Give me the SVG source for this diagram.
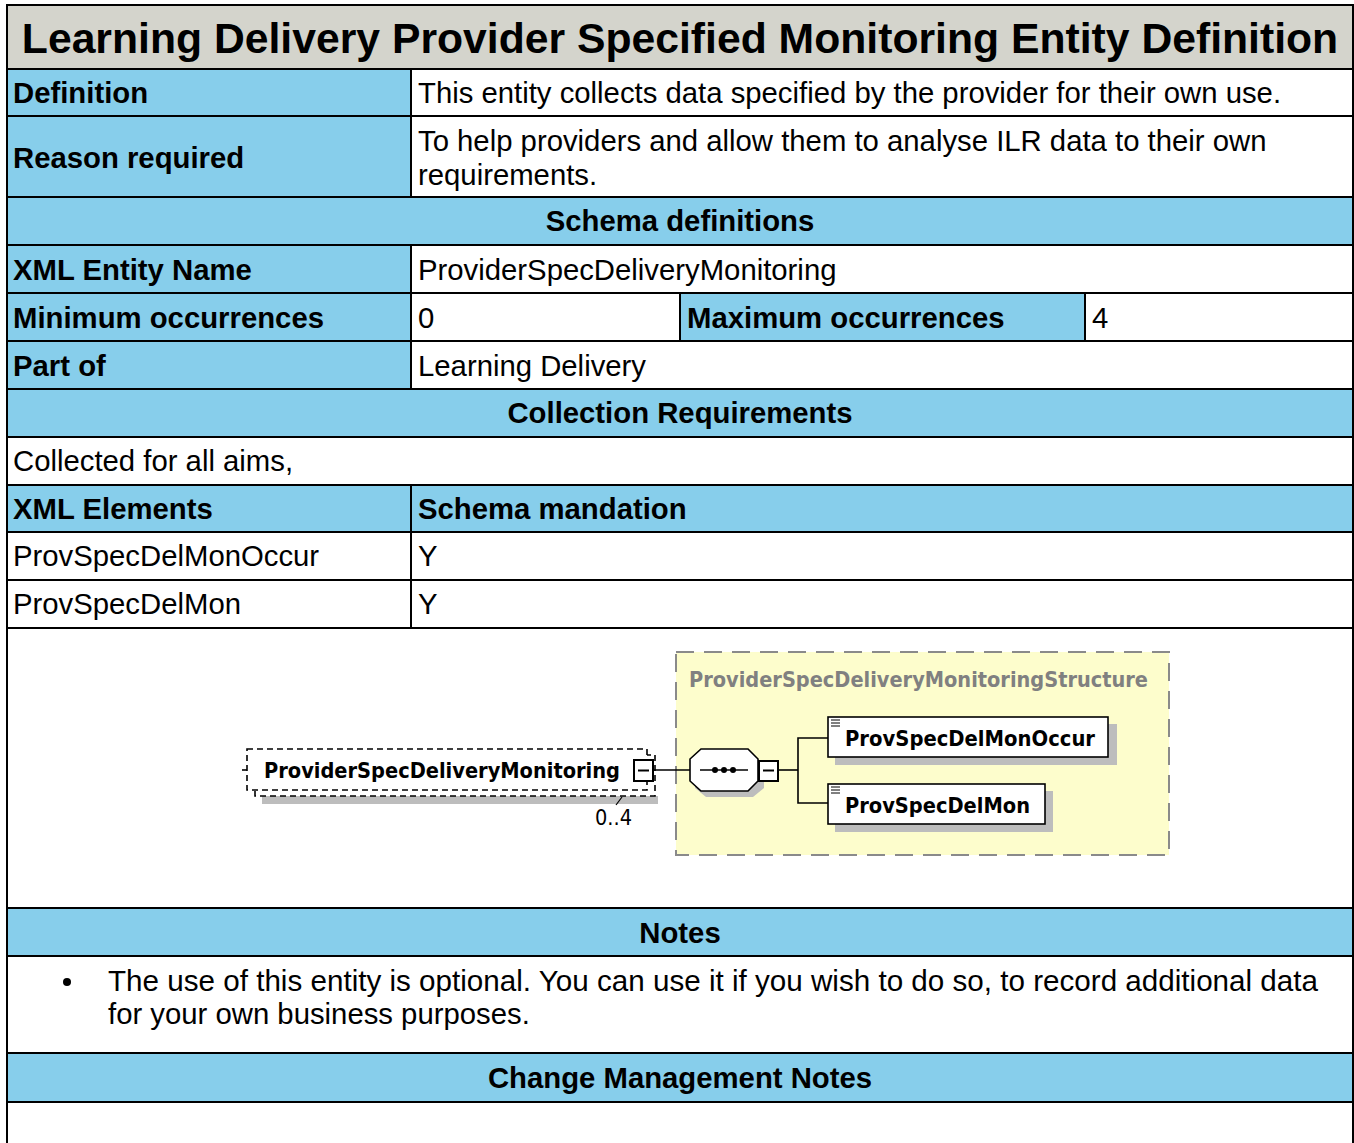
<svg xmlns="http://www.w3.org/2000/svg" width="1354" height="1143" viewBox="0 0 1354 1143">
  <defs>
    <style>
      .hdr { fill: #87ceeb; }
      .grid { stroke: #000; stroke-width: 2; fill: none; }
      .t { font-family: "Liberation Sans", Arial, sans-serif; font-size: 29.3px; fill: #000; }
      .b { font-weight: bold; }
      .mid { text-anchor: middle; }
      .xs { font-family: "DejaVu Sans", Verdana, sans-serif; font-weight: bold; fill: #000; }
      .box { fill: #fff; stroke: #000; stroke-width: 1.6; }
      .shadow { fill: #bdbdbd; }
      .wire { stroke: #000; stroke-width: 1.6; fill: none; }
    </style>
  </defs>

  <rect width="1354" height="1143" fill="#fff"/>

  <!-- table backgrounds -->
  <rect x="7" y="5" width="1346" height="64" fill="#d4d4cc"/>
  <rect class="hdr" x="7" y="69" width="404" height="128"/>
  <rect class="hdr" x="7" y="197" width="1346" height="48"/>
  <rect class="hdr" x="7" y="245" width="404" height="144"/>
  <rect class="hdr" x="680" y="293" width="405" height="48"/>
  <rect class="hdr" x="7" y="389" width="1346" height="48"/>
  <rect class="hdr" x="7" y="485" width="1346" height="47"/>
  <rect class="hdr" x="7" y="908" width="1346" height="48"/>
  <rect class="hdr" x="7" y="1053" width="1346" height="49"/>

  <!-- table grid -->
  <g id="grid" class="grid">
    <rect x="7" y="5" width="1346" height="1140"/>
    <line x1="7" y1="69" x2="1353" y2="69"/>
    <line x1="7" y1="116" x2="1353" y2="116"/>
    <line x1="7" y1="197" x2="1353" y2="197"/>
    <line x1="7" y1="245" x2="1353" y2="245"/>
    <line x1="7" y1="293" x2="1353" y2="293"/>
    <line x1="7" y1="341" x2="1353" y2="341"/>
    <line x1="7" y1="389" x2="1353" y2="389"/>
    <line x1="7" y1="437" x2="1353" y2="437"/>
    <line x1="7" y1="485" x2="1353" y2="485"/>
    <line x1="7" y1="532" x2="1353" y2="532"/>
    <line x1="7" y1="580" x2="1353" y2="580"/>
    <line x1="7" y1="628" x2="1353" y2="628"/>
    <line x1="7" y1="908" x2="1353" y2="908"/>
    <line x1="7" y1="956" x2="1353" y2="956"/>
    <line x1="7" y1="1053" x2="1353" y2="1053"/>
    <line x1="7" y1="1102" x2="1353" y2="1102"/>
    <line x1="411" y1="69" x2="411" y2="197"/>
    <line x1="411" y1="245" x2="411" y2="389"/>
    <line x1="411" y1="485" x2="411" y2="628"/>
    <line x1="680" y1="293" x2="680" y2="341"/>
    <line x1="1085" y1="293" x2="1085" y2="341"/>
  </g>

  <!-- table text -->
  <g id="table-text">
    <text class="t b mid" x="680" y="53" style="font-size:42.7px">Learning Delivery Provider Specified Monitoring Entity Definition</text>
    <text class="t b" x="13" y="103">Definition</text>
    <text class="t" x="418" y="103">This entity collects data specified by the provider for their own use.</text>
    <text class="t b" x="13" y="168">Reason required</text>
    <text class="t" x="418" y="151">To help providers and allow them to analyse ILR data to their own</text>
    <text class="t" x="418" y="185">requirements.</text>
    <text class="t b mid" x="680" y="231">Schema definitions</text>
    <text class="t b" x="13" y="280">XML Entity Name</text>
    <text class="t" x="418" y="280">ProviderSpecDeliveryMonitoring</text>
    <text class="t b" x="13" y="328">Minimum occurrences</text>
    <text class="t" x="418" y="328">0</text>
    <text class="t b" x="687" y="328">Maximum occurrences</text>
    <text class="t" x="1092" y="328">4</text>
    <text class="t b" x="13" y="376">Part of</text>
    <text class="t" x="418" y="376">Learning Delivery</text>
    <text class="t b mid" x="680" y="423">Collection Requirements</text>
    <text class="t" x="13" y="471">Collected for all aims,</text>
    <text class="t b" x="13" y="519">XML Elements</text>
    <text class="t b" x="418" y="519">Schema mandation</text>
    <text class="t" x="13" y="566">ProvSpecDelMonOccur</text>
    <text class="t" x="418" y="566">Y</text>
    <text class="t" x="13" y="614">ProvSpecDelMon</text>
    <text class="t" x="418" y="614">Y</text>
    <text class="t b mid" x="680" y="943">Notes</text>
    <circle cx="67" cy="982" r="4" fill="#000"/>
    <text class="t" x="108" y="991" textLength="1210" lengthAdjust="spacingAndGlyphs">The use of this entity is optional.  You can use it if you wish to do so, to record additional data</text>
    <text class="t" x="108" y="1024">for your own business purposes.</text>
    <text class="t b mid" x="680" y="1088">Change Management Notes</text>
  </g>

  <!-- schema diagram -->
  <g id="structure-frame">
    <rect x="676" y="652" width="493" height="203" fill="#fdfdcc" stroke="#8a8a8a" stroke-width="2" stroke-dasharray="18,10"/>
    <text class="xs" x="689" y="687" font-size="22" style="fill:#808080" textLength="459" lengthAdjust="spacingAndGlyphs">ProviderSpecDeliveryMonitoringStructure</text>
  </g>

  <g id="root-element">
    <rect class="shadow" x="262" y="796" width="396" height="8"/>
    <rect x="255" y="755" width="400" height="41" fill="#fff" stroke="#000" stroke-width="1.6" stroke-dasharray="6,4"/>
    <rect x="247" y="749" width="400" height="41" fill="#fff" stroke="#000" stroke-width="1.6" stroke-dasharray="6,4"/>
    <line x1="242" y1="770" x2="247" y2="770" stroke="#000" stroke-width="1.6"/>
    <text class="xs" x="264" y="778" font-size="22" textLength="356" lengthAdjust="spacingAndGlyphs">ProviderSpecDeliveryMonitoring</text>
    <rect x="634" y="760" width="19" height="21" fill="#fff" stroke="#000" stroke-width="2"/>
    <line x1="638" y1="770.5" x2="649" y2="770.5" stroke="#000" stroke-width="2"/>
    <line x1="622" y1="797" x2="616" y2="805" stroke="#000" stroke-width="1.2"/>
    <text x="595" y="825" font-family="DejaVu Sans, Verdana, sans-serif" font-size="22" fill="#000" textLength="37" lengthAdjust="spacingAndGlyphs">0..4</text>
  </g>

  <g id="sequence">
    <polygon points="706,754 753,754 764,765 764,788 753,797 706,797 695,788 695,765" fill="#bdbdbd"/>
    <polygon points="701,749 748,749 758,759 758,781 748,791 701,791 690,781 690,759" fill="#fff" stroke="#000" stroke-width="1.6"/>
    <line x1="700" y1="770" x2="748" y2="770" stroke="#000" stroke-width="1.6"/>
    <circle cx="715" cy="770" r="3" fill="#000"/>
    <circle cx="724" cy="770" r="3" fill="#000"/>
    <circle cx="733" cy="770" r="3" fill="#000"/>
    <rect x="759" y="761" width="19" height="20" fill="#fff" stroke="#000" stroke-width="2"/>
    <line x1="763" y1="770.5" x2="774" y2="770.5" stroke="#000" stroke-width="2"/>
  </g>

  <g id="el-occur">
    <rect class="shadow" x="835" y="724" width="282" height="41"/>
    <rect class="box" x="828" y="717" width="280" height="40"/>
    <path d="M831 720h9M831 723h9M831 726h9" stroke="#000" stroke-width="1"/>
    <text class="xs" x="845" y="746" font-size="22" textLength="250" lengthAdjust="spacingAndGlyphs">ProvSpecDelMonOccur</text>
  </g>

  <g id="el-mon">
    <rect class="shadow" x="835" y="791" width="218" height="41"/>
    <rect class="box" x="828" y="784" width="217" height="40"/>
    <path d="M831 787h9M831 790h9M831 793h9" stroke="#000" stroke-width="1"/>
    <text class="xs" x="845" y="813" font-size="22" textLength="185" lengthAdjust="spacingAndGlyphs">ProvSpecDelMon</text>
  </g>

  <g id="connectors" class="wire">
    <line x1="653" y1="770" x2="690" y2="770"/>
    <line x1="778" y1="770" x2="798" y2="770"/>
    <polyline points="828,738 798,738 798,803 828,803"/>
  </g>
</svg>
